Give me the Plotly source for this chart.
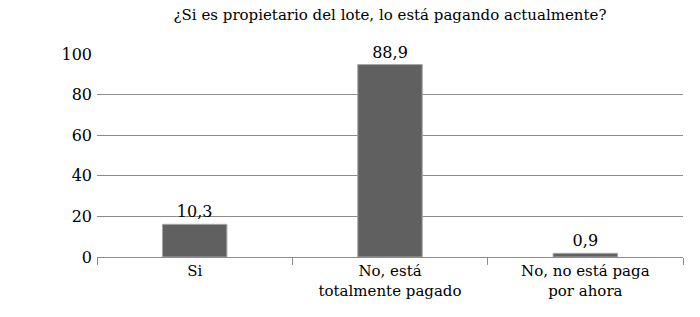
import plotly.graph_objects as go

categories = ["Si", "No, está<br>totalmente pagado", "No, no está paga<br>por ahora"]
bar_heights = [16.1, 94.8, 1.8]
value_labels = ["10,3", "88,9", "0,9"]
y_ticks = [0, 20, 40, 60, 80, 100]

font_family = "DejaVu Serif"

fig = go.Figure(
    go.Bar(
        x=categories,
        y=bar_heights,
        text=value_labels,
        textposition="outside",
        cliponaxis=False,
        textfont=dict(family=font_family, size=16, color="#000000"),
        marker=dict(color="#606060", line=dict(color="#a6a6a6", width=1)),
        width=0.33,
    )
)

fig.update_layout(
    width=700,
    height=317,
    margin=dict(l=97, r=17, t=54, b=60, autoexpand=False),
    paper_bgcolor="white",
    plot_bgcolor="white",
    showlegend=False,
    font=dict(family=font_family, size=15, color="#000000"),
    title=dict(
        text="¿Si es propietario del lote, lo está pagando actualmente?",
        x=0.5,
        xref="paper",
        xanchor="center",
        y=1 - 15 / 317,
        yanchor="middle",
        yref="container",
        font=dict(family=font_family, size=15, color="#000000"),
    ),
)

fig.update_yaxes(
    range=[0, 100],
    tickvals=y_ticks,
    ticktext=[str(v) for v in y_ticks],
    showgrid=True,
    gridcolor="#8c8c8c",
    gridwidth=1,
    zeroline=False,
    showline=False,
    ticks="",
    automargin=False,
    ticklabelstandoff=4,
    tickfont=dict(family=font_family, size=16),
)

fig.update_xaxes(
    showline=True,
    linecolor="#8c8c8c",
    linewidth=1,
    ticks="outside",
    tickson="boundaries",
    ticklen=7,
    tickcolor="#8c8c8c",
    automargin=False,
    tickfont=dict(family=font_family, size=15),
    showgrid=False,
)

fig.write_html(
    "out.html",
    config={"displayModeBar": False},
    post_script="document.body.style.margin='0';",
)
